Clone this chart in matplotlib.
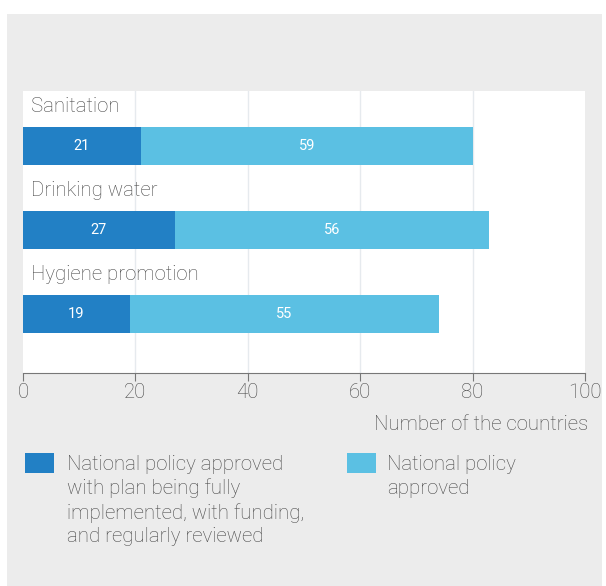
import matplotlib
matplotlib.use('Agg')
import matplotlib.pyplot as plt
from matplotlib.patches import Rectangle

plt.rcParams['font.family'] = ['Roboto', 'DejaVu Sans']

# Data
categories = ['Sanitation', 'Drinking water', 'Hygiene promotion']
fully_implemented = [21, 27, 19]
approved = [59, 56, 55]
xticks = [0, 20, 40, 60, 80, 100]
legend_labels = ['National policy approved\nwith plan being fully\nimplemented, with funding,\nand regularly reviewed',
                 'National policy\napproved']

dark_blue = '#2280c5'
light_blue = '#5bc0e3'
text_color = '#474747'
fs = 14.7

W, H = 606, 586
fig = plt.figure(figsize=(W / 100, H / 100), dpi=100, facecolor='white')

# gray background panel
fig.patches.append(Rectangle((7 / W, 0), 595 / W, (H - 14) / H, transform=fig.transFigure,
                             facecolor='#ececec', edgecolor='none', zorder=0))

ax = fig.add_axes([23 / W, (H - 373) / H, 562 / W, 282 / H])
ax.set_zorder(2)
ax.set_facecolor('white')

y = list(range(len(categories)))
ax.barh(y, fully_implemented, height=0.45, color=dark_blue, zorder=3)
ax.barh(y, approved, left=fully_implemented, height=0.45, color=light_blue, zorder=3)

for i, cat in enumerate(categories):
    ax.text(1.5, i - 0.47, cat, fontsize=fs, color=text_color, va='center', ha='left',
            fontweight='light')
    ax.text(fully_implemented[i] / 2, i, str(fully_implemented[i]), color='white', fontsize=10.5,
            ha='center', va='center', zorder=4)
    ax.text(fully_implemented[i] + approved[i] / 2, i, str(approved[i]), color='white', fontsize=10.5,
            ha='center', va='center', zorder=4)

for gx in xticks[1:-1]:
    ax.axvline(gx, color='#e6eaee', lw=1, zorder=1)

ax.set_xlim(0, 100)
ax.set_ylim(2.7, -0.65)
ax.set_yticks([])
ax.set_xticks(xticks)
ax.tick_params(axis='x', direction='out', length=6, color='#777777', labelsize=fs,
               labelcolor=text_color, pad=1.5)
for lbl in ax.get_xticklabels():
    lbl.set_fontweight('light')
for s in ['top', 'right', 'left']:
    ax.spines[s].set_visible(False)
ax.spines['bottom'].set_color('#777777')

fig.text(588 / W, 1 - 425 / H, 'Number of the countries', ha='right', va='center',
         fontsize=fs, color=text_color, fontweight='light')

# legend
for (sx, tx), col, lab in zip([(25, 67), (347, 387)], [dark_blue, light_blue], legend_labels):
    fig.patches.append(Rectangle((sx / W, 1 - 473 / H), 29 / W, 20 / H, transform=fig.transFigure,
                                 facecolor=col, edgecolor='none'))
    fig.text(tx / W, 1 - 455 / H, lab, ha='left', va='top', fontsize=fs, color=text_color,
             linespacing=1.3, fontweight='light')

fig.savefig('out.png', dpi=100, facecolor='white')
